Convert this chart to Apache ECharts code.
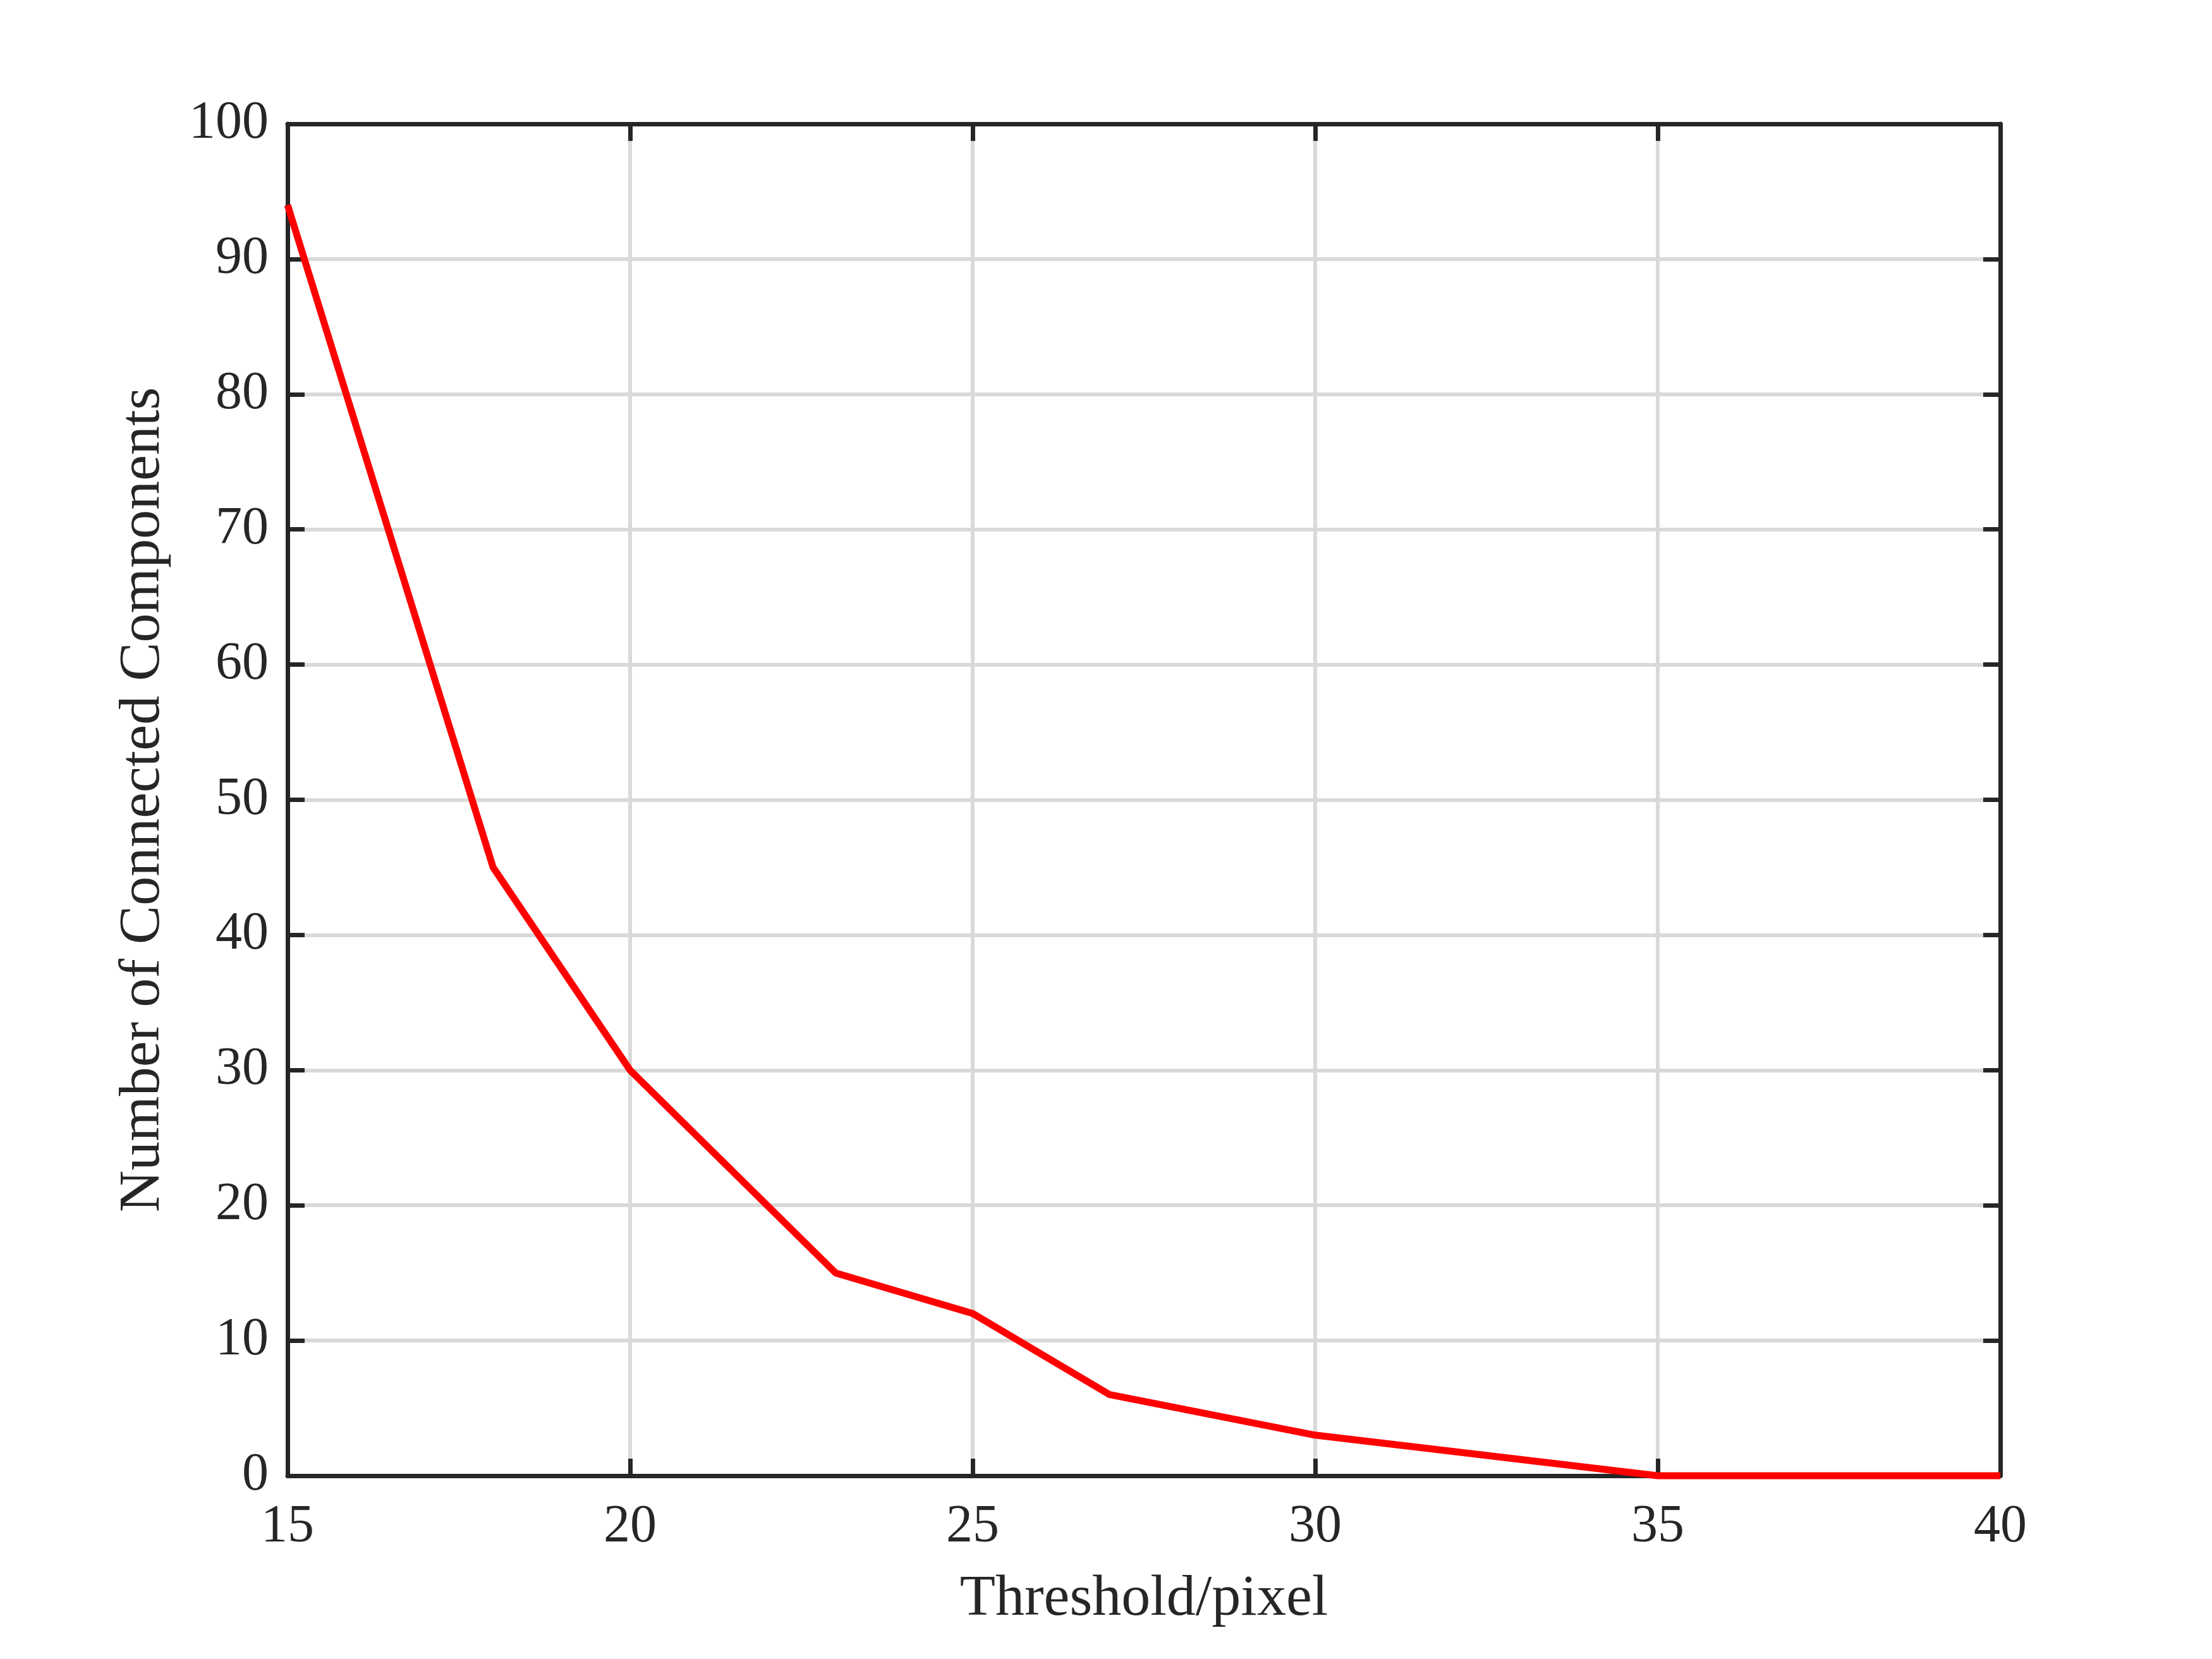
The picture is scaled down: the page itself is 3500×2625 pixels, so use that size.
<!DOCTYPE html>
<html>
<head>
<meta charset="utf-8">
<script src="https://cdn.jsdelivr.net/npm/echarts@6/dist/echarts.min.js"></script>
<style>
  html, body { margin: 0; padding: 0; background: #fff; }
  #chart { width: 3500px; height: 2625px; }
</style>
</head>
<body>
<div id="chart"></div>
<script>
  // threshold (pixel) vs number of connected components
  const thresholds = [15, 18, 20, 23, 25, 27, 30, 35, 40]
  const components = [94, 45, 30, 15, 12, 6, 3, 0, 0]

  const xName = 'Threshold/pixel'
  const yName = 'Number of Connected Components'

  const ink = '#262626'
  const font = '"Liberation Serif", "Times New Roman", serif'

  let chart = echarts.init(document.getElementById('chart'))

  // axis shared bits, the box is made of 4 axes with inward ticks
  let tick = {show: true, inside: true, length: 27, lineStyle: {color: ink, width: 7}}
  let line = {show: true, onZero: false, lineStyle: {color: ink, width: 7}}
  let grid = {show: true, lineStyle: {color: '#d9d9d9', width: 6}}

  chart.setOption({
    animation: false,
    backgroundColor: '#fff',
    grid: {left: 455, right: 335, top: 196, bottom: 290, containLabel: false},
    xAxis: [
      {
        type: 'value', min: 15, max: 40, interval: 5,
        name: xName, nameLocation: 'middle', nameGap: 150,
        nameTextStyle: {color: ink, fontFamily: font, fontSize: 92},
        axisLine: line, axisTick: tick, splitLine: grid,
        axisLabel: {color: ink, fontFamily: font, fontSize: 84, margin: 40}
      },
      {
        type: 'value', position: 'top', min: 15, max: 40, interval: 5,
        axisLine: line, axisTick: tick, splitLine: {show: false},
        axisLabel: {show: false}
      }
    ],
    yAxis: [
      {
        type: 'value', min: 0, max: 100, interval: 10,
        name: yName, nameLocation: 'middle', nameGap: 182,
        nameTextStyle: {color: ink, fontFamily: font, fontSize: 92},
        axisLine: line, axisTick: tick, splitLine: grid,
        axisLabel: {color: ink, fontFamily: font, fontSize: 84, margin: 30}
      },
      {
        type: 'value', position: 'right', min: 0, max: 100, interval: 10,
        axisLine: line, axisTick: tick, splitLine: {show: false},
        axisLabel: {show: false}
      }
    ],
    series: [
      {
        type: 'line',
        data: thresholds.map((t, i) => [t, components[i]]),
        symbol: 'none',
        clip: false,
        lineStyle: {color: '#ff0000', width: 11}
      }
    ]
  })
</script>
</body>
</html>
